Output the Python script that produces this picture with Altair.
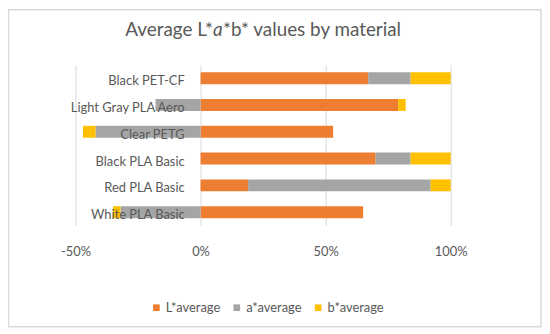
import altair as alt
import pandas as pd

materials = ["Black PET-CF", "Light Gray PLA Aero", "Clear PETG",
             "Black PLA Basic", "Red PLA Basic", "White PLA Basic"]
series = ["L*average", "a*average", "b*average"]
L_vals = [0.67, 0.79, 0.53, 0.70, 0.19, 0.65]
a_vals = [0.17, -0.18, -0.42, 0.14, 0.73, -0.32]
b_vals = [0.16, 0.03, -0.05, 0.16, 0.08, -0.03]
colors = ["#ED7D31", "#A5A5A5", "#FFC000"]
x_ticks = [-0.5, 0, 0.5, 1.0]

rows = []
for i, m in enumerate(materials):
    for j, (s, vals) in enumerate(zip(series, [L_vals, a_vals, b_vals])):
        rows.append({"material": m, "series": s, "value": vals[i], "order": j})
df = pd.DataFrame(rows)
lab_df = pd.DataFrame({"material": materials})
one = pd.DataFrame({"k": [0]})

FONT = "Lato"
TXT = "#595959"

yenc = alt.Y("material:N", sort=materials, axis=None,
             scale=alt.Scale(paddingInner=0.0, paddingOuter=0.0))

bars = alt.Chart(df).mark_bar(size=12).encode(
    x=alt.X("value:Q", stack="zero",
            scale=alt.Scale(domain=[-0.5, 1.0], nice=False),
            axis=alt.Axis(values=x_ticks, title=None, domain=False, ticks=False,
                          grid=True, gridColor="#D9D9D9", labelPadding=20,
                          labelFlush=False,
                          labelExpr="round(datum.value*100) + '%'")),
    y=yenc,
    color=alt.Color("series:N", scale=alt.Scale(domain=series, range=colors),
                    legend=alt.Legend(title=None, orient="none", legendX=75, legendY=238,
                                      direction="horizontal", symbolType="square",
                                      symbolSize=45, labelOffset=3, columnPadding=10)),
    order=alt.Order("order:Q"),
)

labels = alt.Chart(lab_df).mark_text(align="right", baseline="middle", dx=-16, dy=3,
                                     font=FONT, fontSize=13, color=TXT).encode(
    x=alt.datum(0), y=yenc, text="material:N")

AX = 143.5
t1 = alt.Chart(one).mark_text(text="Average L*", align="right", baseline="alphabetic",
                              font=FONT, fontSize=19, fontWeight="normal", color=TXT).encode(
    x=alt.value(AX - 5), y=alt.value(-29))
t2 = alt.Chart(one).mark_text(text="a", align="center", baseline="alphabetic",
                              font=FONT, fontSize=19, fontStyle="italic", fontWeight="normal",
                              color=TXT).encode(
    x=alt.value(AX), y=alt.value(-29))
t3 = alt.Chart(one).mark_text(text="*b* values by material", align="left", baseline="alphabetic",
                              font=FONT, fontSize=19, fontWeight="normal", color=TXT).encode(
    x=alt.value(AX + 5), y=alt.value(-29))

border = alt.Chart(one).mark_rect(fillOpacity=0, stroke="#D9D9D9", strokeWidth=1.5).encode(
    x=alt.value(-67.5), x2=alt.value(469), y=alt.value(-55.5), y2=alt.value(264))

chart = alt.layer(border, bars, labels, t1, t2, t3).properties(
    width=378, height=162,
    autosize=alt.AutoSizeParams(type="none"),
    padding={"left": 68, "top": 56, "right": 92, "bottom": 103},
).configure_view(stroke=None).configure_axis(
    labelFont=FONT, labelFontSize=13, labelColor=TXT
).configure_legend(labelFont=FONT, labelFontSize=13, labelColor=TXT)

chart.save("out.html", embed_options={"renderer": "svg", "actions": False})
